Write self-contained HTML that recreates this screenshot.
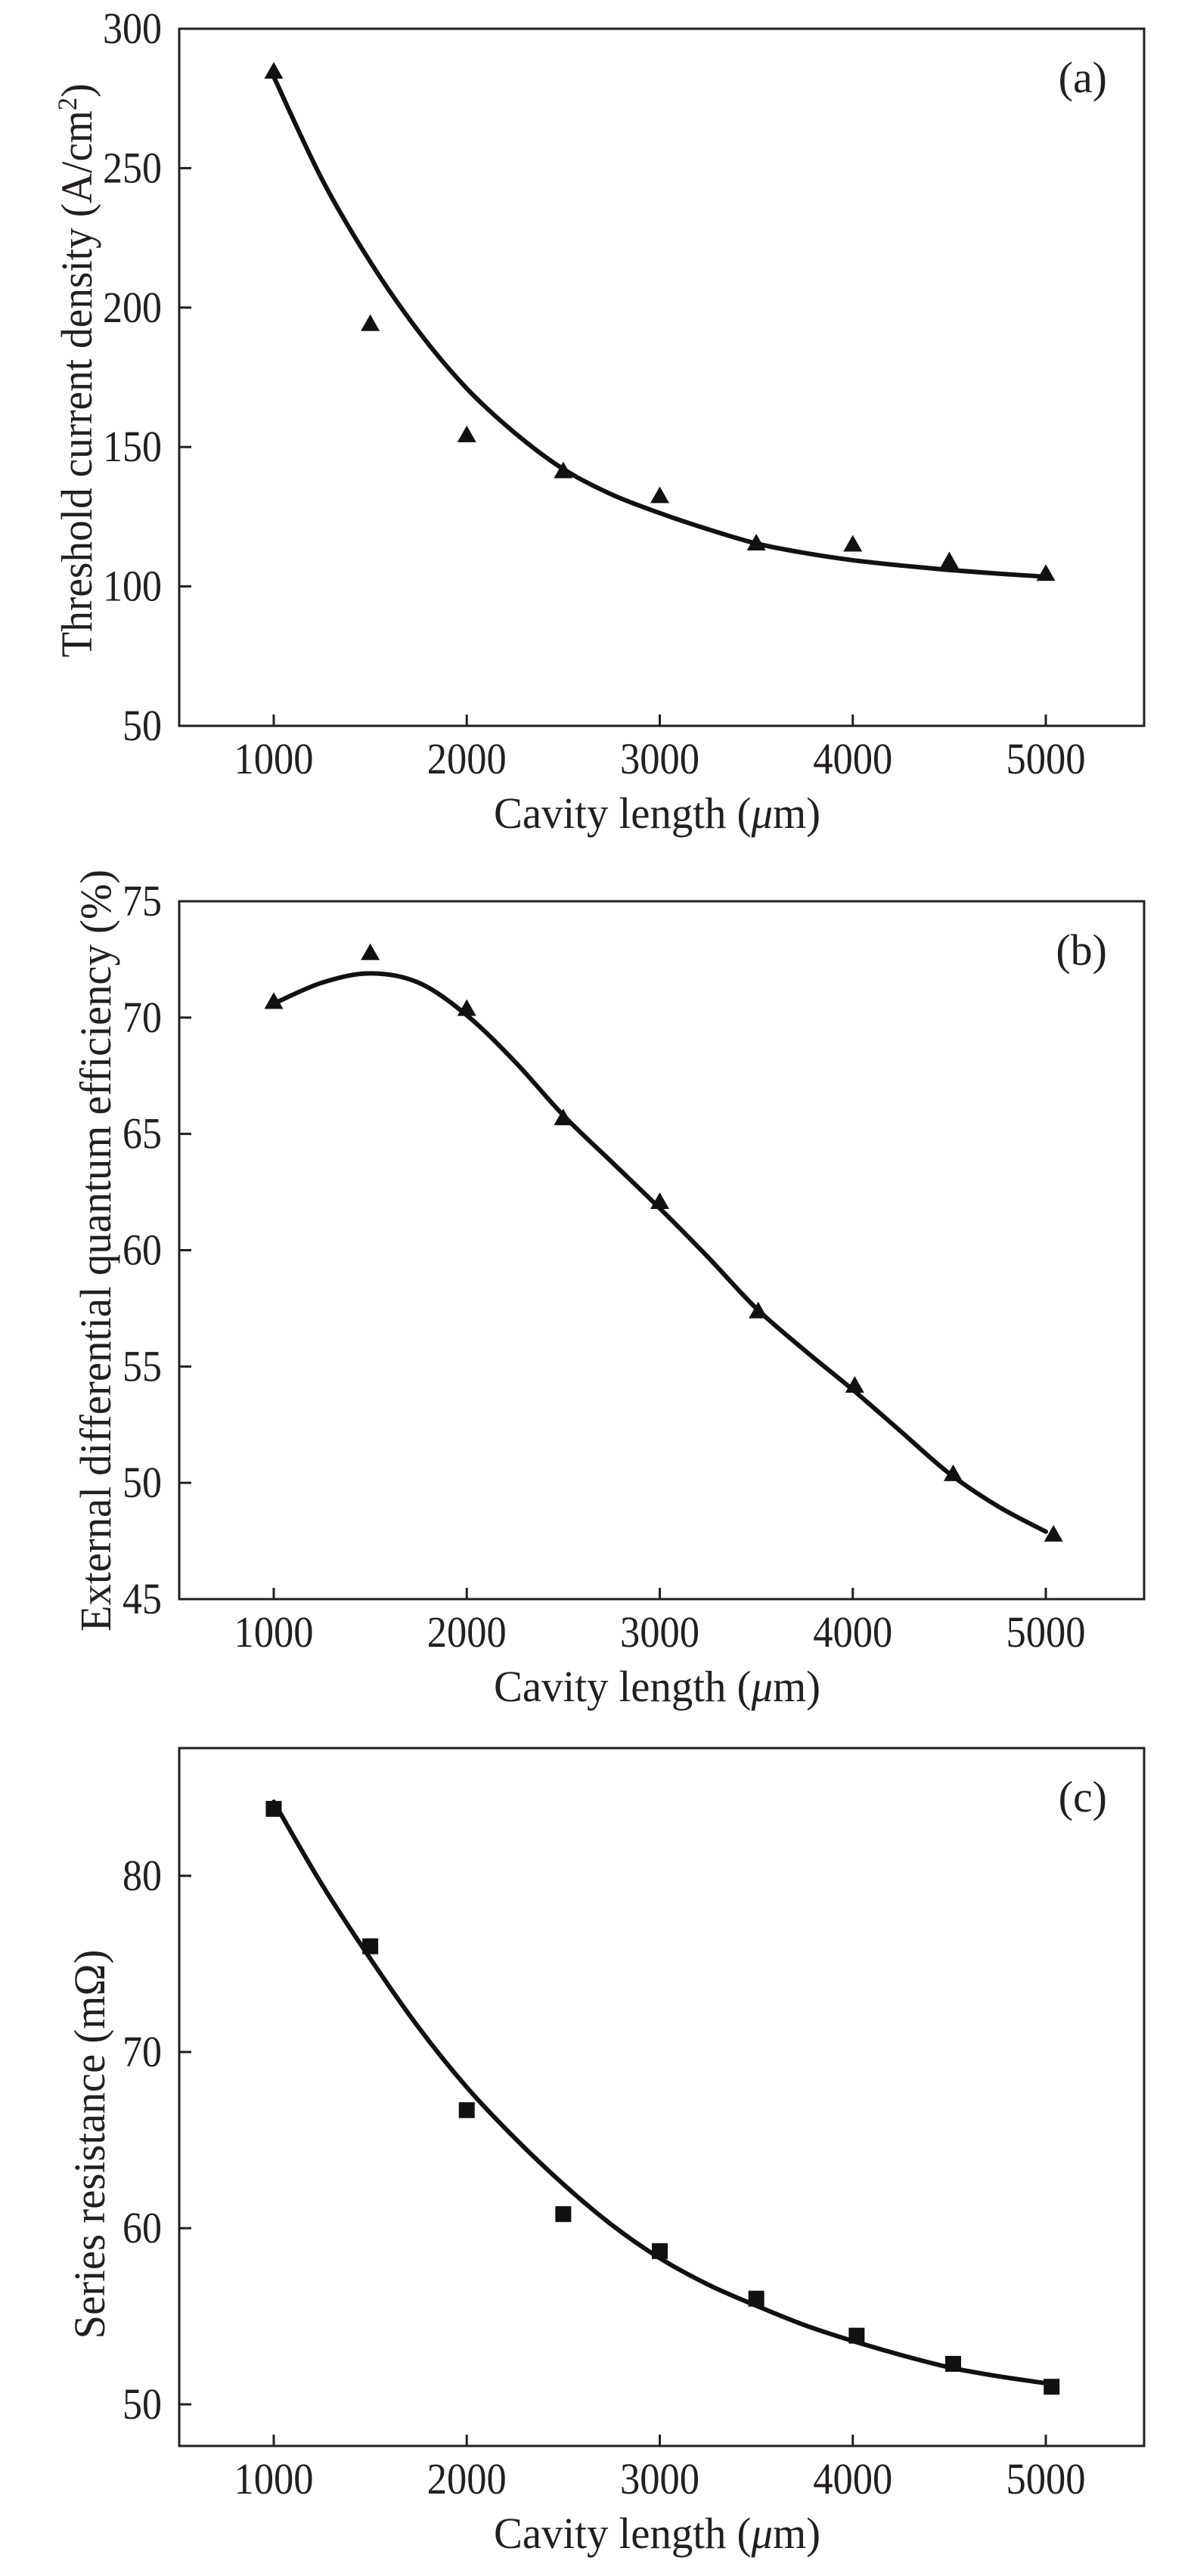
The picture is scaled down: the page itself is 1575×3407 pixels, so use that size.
<!DOCTYPE html>
<html><head><meta charset="utf-8"><style>
html,body{margin:0;padding:0;background:#fff;}
svg{display:block;}
text{font-family:"Liberation Serif",serif;fill:#231f20;}
</style></head><body>
<svg id="fig" width="1575" height="3407" viewBox="0 0 1575 3407" xmlns="http://www.w3.org/2000/svg"></svg>
<script>
// shared x data
const xTicks = [1000, 2000, 3000, 4000, 5000];
const fitX = [1000, 1250, 1500, 1750, 2000, 2250, 2500, 2750, 3000, 3250, 3500, 3750, 4000, 4250, 4500, 4750, 5000];
// panel (a)
const aX = [1000, 1500, 2000, 2500, 3000, 3500, 4000, 4500, 5000];
const aY = [284, 193.5, 153.6, 140.7, 131.8, 114.8, 114.4, 108.4, 103.9];
const aFitY = [282.8, 246, 216.4, 191.5, 171, 155, 142.1, 133, 126.3, 120.5, 115.4, 112, 109.4, 107.5, 105.9, 104.6, 103.5];
const aTicks = [50, 100, 150, 200, 250, 300];
// panel (b)
const bX = [1000, 1500, 2000, 2500, 3000, 3510, 4010, 4520, 5040];
const bY = [70.6, 72.7, 70.3, 65.6, 62.0, 57.3, 54.1, 50.3, 47.7];
const bFitY = [70.6, 71.5, 71.9, 71.5, 70.1, 68.1, 65.8, 63.8, 61.8, 59.7, 57.5, 55.7, 54.0, 52.2, 50.4, 49.0, 47.9];
const bTicks = [45, 50, 55, 60, 65, 70, 75];
// panel (c)
const cX = [1000, 1500, 2000, 2500, 3000, 3500, 4020, 4520, 5030];
const cY = [83.8, 76.0, 66.7, 60.8, 58.7, 56.0, 53.9, 52.3, 51.0];
const cFitY = [84.2, 79.5, 75.3, 71.4, 68.0, 65.1, 62.5, 60.2, 58.3, 56.8, 55.6, 54.5, 53.6, 52.8, 52.1, 51.6, 51.2];
const cTicks = [50, 60, 70, 80];

const NS = "http://www.w3.org/2000/svg";
const svg = document.getElementById('fig');
function mk(tag, attrs, parent, txt){
  const e = document.createElementNS(NS, tag);
  for (const k in attrs) e.setAttribute(k, attrs[k]);
  if (txt !== undefined) e.textContent = txt;
  (parent || svg).appendChild(e);
  return e;
}
const L = 237, R = 1513;
function xs(v){ return 362 + (v - 1000) * 0.25525; }

function smooth(pts){
  let d = "M" + pts[0][0] + "," + pts[0][1];
  for (let i = 0; i < pts.length - 1; i++){
    const p0 = pts[Math.max(0, i-1)], p1 = pts[i], p2 = pts[i+1], p3 = pts[Math.min(pts.length-1, i+2)];
    const c1x = p1[0] + (p2[0]-p0[0])/6, c1y = p1[1] + (p2[1]-p0[1])/6;
    const c2x = p2[0] - (p3[0]-p1[0])/6, c2y = p2[1] - (p3[1]-p1[1])/6;
    d += " C" + c1x + "," + c1y + " " + c2x + "," + c2y + " " + p2[0] + "," + p2[1];
  }
  return d;
}

function panel(cfg){
  const g = mk('g', {});
  
  
  const ys = v => cfg.bottom - (v - cfg.ymin) / (cfg.ymax - cfg.ymin) * (cfg.bottom - cfg.top);
  const frame = mk('rect', {x:L, y:cfg.top, width:R-L, height:cfg.bottom-cfg.top, fill:'none', stroke:'#231f20', 'stroke-width':3}, g);
  
  
  cfg.ticks.forEach(t => {
    const y = ys(t);
    const tk = mk('line', {x1:L, x2:L+16, y1:y, y2:y, stroke:'#231f20', 'stroke-width':3}, g);
    
    
    const s = String(t);
    const lb = mk('text', {x:214, y:y+19, 'text-anchor':'end', 'font-size':58, textLength:s.length*26, lengthAdjust:'spacingAndGlyphs'}, g, s);
    
    
  });
  xTicks.forEach(t => {
    const x = xs(t);
    const tk = mk('line', {x1:x, x2:x, y1:cfg.bottom, y2:cfg.bottom-15, stroke:'#231f20', 'stroke-width':3}, g);
    
    
    const lb = mk('text', {x:x, y:cfg.bottom+63, 'text-anchor':'middle', 'font-size':58, textLength:105, lengthAdjust:'spacingAndGlyphs'}, g, String(t));
    
    
  });
  const xt = mk('text', {x:869, y:cfg.bottom+135, 'text-anchor':'middle', 'font-size':58, textLength:432, lengthAdjust:'spacingAndGlyphs'}, g);
  
  
  mk('tspan', {}, xt, 'Cavity length (');
  mk('tspan', {'font-style':'italic'}, xt, 'μ');
  mk('tspan', {}, xt, 'm)');
  const yt = mk('text', {x:0, y:0, 'text-anchor':'middle', 'font-size':58, textLength:cfg.ylen, lengthAdjust:'spacingAndGlyphs',
    transform:'translate(' + cfg.ybx + ',' + cfg.ycy + ') rotate(-90)'}, g);
  
  
  if (cfg.id === 'a'){
    mk('tspan', {}, yt, 'Threshold current density (A/cm');
    mk('tspan', {'font-size':36, dy:-20}, yt, '2');
    mk('tspan', {dy:20}, yt, ')');
  } else {
    yt.textContent = cfg.ytitle;
  }
  const pl = mk('text', {x:1464, y:cfg.top+84, 'text-anchor':'end', 'font-size':58}, g, '(' + cfg.id + ')');
  
  
  const pts = fitX.map((v, i) => [xs(v), ys(cfg.fy[i])]);
  const curve = mk('path', {d:smooth(pts), fill:'none', stroke:'#111', 'stroke-width':6, 'stroke-linecap':'round'}, g);
  
  
  cfg.px.forEach((v, i) => {
    const x = xs(v), y = ys(cfg.py[i]);
    let m;
    if (cfg.marker === 'tri'){
      m = mk('polygon', {points:(x-12.5)+','+(y+7)+' '+(x+12.5)+','+(y+7)+' '+x+','+(y-15), fill:'#111'}, g);
    } else {
      m = mk('rect', {x:x-10.5, y:y-10.5, width:21, height:21, fill:'#111'}, g);
    }
    
    
  });
}

panel({id:'a', top:38, bottom:960, ymin:50, ymax:300, ticks:aTicks, px:aX, py:aY, fy:aFitY, marker:'tri', ybx:121, ycy:490, ylen:759});
panel({id:'b', top:1192, bottom:2115, ymin:45, ymax:75, ticks:bTicks, px:bX, py:bY, fy:bFitY, marker:'tri', ybx:146, ycy:1654, ylen:1008, ytitle:'External differential quantum efficiency (%)'});
panel({id:'c', top:2312, bottom:3235, ymin:47.64, ymax:87.25, ticks:cTicks, px:cX, py:cY, fy:cFitY, marker:'sq', ybx:138, ycy:2836, ylen:515, ytitle:'Series resistance (mΩ)'});
</script>
</body></html>
